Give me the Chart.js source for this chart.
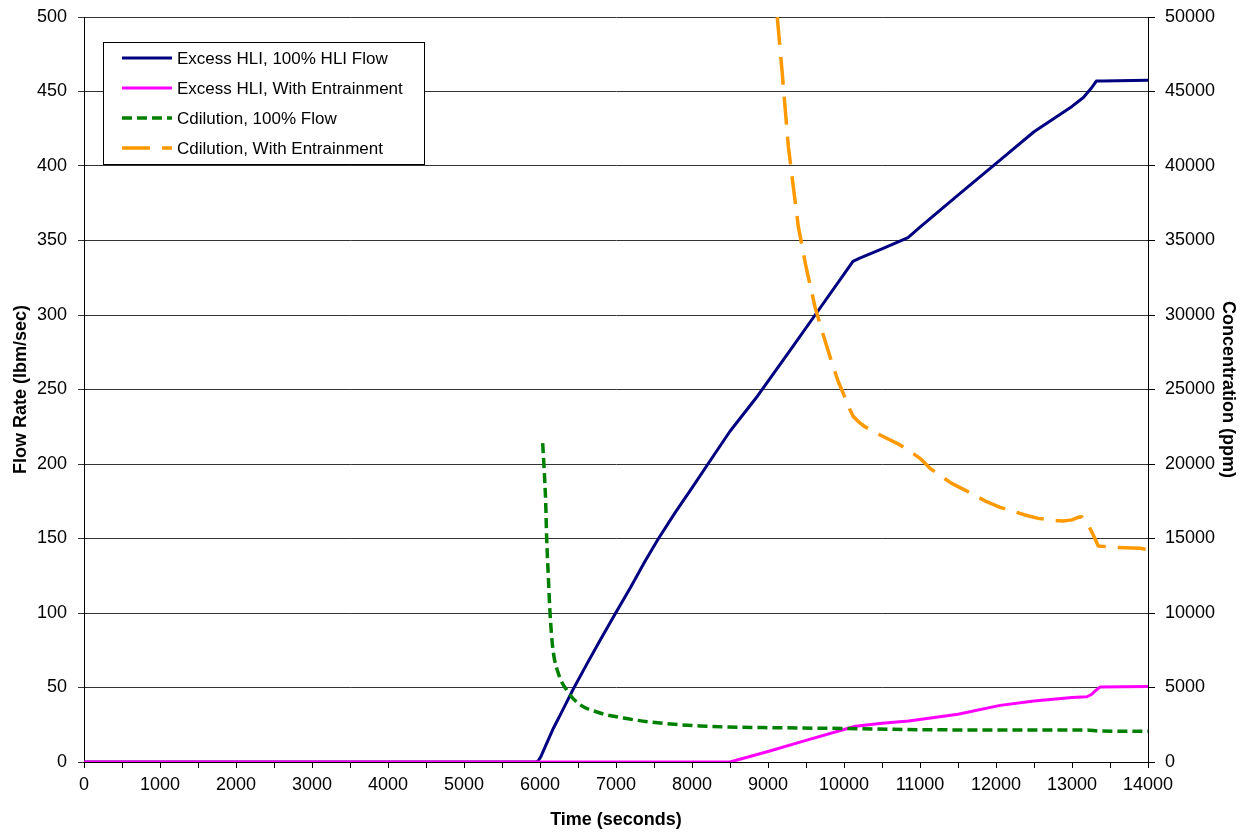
<!DOCTYPE html>
<html>
<head>
<meta charset="utf-8">
<script src="https://cdn.jsdelivr.net/npm/chart.js@4/dist/chart.umd.min.js"></script>
<style>
  html, body { margin: 0; padding: 0; background: #fff; }
  #wrap { width: 1242px; height: 833px; }
</style>
</head>
<body>
<div id="wrap"><canvas id="c" width="1242" height="833"></canvas></div>
<script>
// ---- data ----
const seriesNames = [
  'Excess HLI, 100% HLI Flow',
  'Excess HLI, With Entrainment',
  'Cdilution, 100% Flow',
  'Cdilution, With Entrainment'
];

// Flow rate (lbm/sec), left axis
const blueX = [0, 5900, 5956, 5980, 6010, 6066, 6175, 6300, 6438, 6614, 6789, 6990, 7200, 7380, 7553, 7780, 8000, 8210, 8500, 8868, 9300, 9620, 10000, 10118, 10200, 10500, 10842, 11000, 11500, 12053, 12500, 13000, 13150, 13250, 13320, 13400, 14000];
const blueY = [0, 0, 0, 1, 3.5, 10, 22.5, 35, 49, 65.5, 81.5, 99.5, 118, 134.5, 149.5, 167.5, 184, 200, 222, 246, 277, 300, 327.5, 336, 338, 344.4, 352, 359, 380.5, 404, 423, 440, 446, 452, 457, 457, 457.5];

const magentaX = [0, 8500, 9000, 9500, 10000, 10150, 10500, 10850, 11500, 12053, 12500, 13000, 13197, 13260, 13300, 13368, 14000];
const magentaY = [0, 0, 7, 14.5, 21.8, 24, 26, 27.5, 32, 38, 41, 43.3, 43.8, 45.5, 47.5, 50.3, 50.7];

// Concentration (ppm), right axis
const greenX = [6035, 6053, 6075, 6088, 6110, 6132, 6167, 6241, 6351, 6500, 6790, 7100, 7447, 8105, 9421, 10000, 11000, 12000, 13000, 13200, 13350, 14000];
const greenY = [21400, 19800, 17400, 15000, 12400, 10000, 7700, 5950, 4830, 3950, 3290, 2950, 2685, 2416, 2282, 2250, 2170, 2150, 2150, 2150, 2080, 2060];

const orangeX = [9122, 9180, 9224, 9268, 9333, 9399, 9500, 9618, 9706, 9816, 9925, 9990, 10060, 10122, 10200, 10276, 10474, 10737, 10870, 11000, 11132, 11300, 11417, 11592, 11877, 12053, 12382, 12557, 12750, 12886, 13000, 13080, 13128, 13215, 13280, 13346, 13500, 13697, 13895, 14000];
const orangeY = [50000, 46650, 43980, 41300, 38610, 35930, 33240, 30560, 29000, 27200, 25520, 24740, 23850, 23180, 22800, 22500, 21950, 21280, 20850, 20380, 19710, 19100, 18700, 18250, 17470, 17090, 16580, 16350, 16230, 16170, 16250, 16420, 16460, 15900, 15230, 14500, 14430, 14380, 14340, 14260];

// axis ranges / ticks
const xRange = [0, 14000];
const xMinorStep = 500;
const xLabelStep = 1000;
const yLeftRange = [0, 500];
const yLeftStep = 50;
const yRightRange = [0, 50000];
const yRightStep = 5000;

const xTitle = 'Time (seconds)';
const yLeftTitle = 'Flow Rate (lbm/sec)';
const yRightTitle = 'Concentration (ppm)';

// ---- build ----
const pts = (xs, ys) => xs.map((x, i) => ({ x: x, y: ys[i] }));
const FONT = '"Liberation Sans", Arial, Helvetica, sans-serif';
Chart.defaults.font.family = FONT;
Chart.defaults.color = '#000';

const boxLegend = {
  id: 'boxLegend',
  afterDatasetsDraw(chart) {
    const { ctx, chartArea } = chart;
    const x0 = chartArea.left + 19, y0 = chartArea.top + 25, w = 321, h = 122;
    ctx.save();
    ctx.fillStyle = '#fff';
    ctx.fillRect(x0, y0, w, h);
    ctx.strokeStyle = '#000';
    ctx.lineWidth = 1;
    ctx.strokeRect(x0 + 0.5, y0 + 0.5, w, h);
    chart.data.datasets.forEach((ds, i) => {
      const y = y0 + 16 + i * 30;
      ctx.beginPath();
      ctx.setLineDash(ds.borderDash || []);
      ctx.strokeStyle = ds.borderColor;
      ctx.lineWidth = ds.borderWidth;
      ctx.moveTo(x0 + 19, y);
      ctx.lineTo(x0 + 69, y);
      ctx.stroke();
      ctx.setLineDash([]);
      ctx.fillStyle = '#000';
      ctx.font = '17px ' + FONT;
      ctx.textBaseline = 'middle';
      ctx.textAlign = 'left';
      ctx.fillText(ds.label, x0 + 74, y + 1);
    });
    ctx.restore();
  }
};

new Chart(document.getElementById('c'), {
  type: 'line',
  data: {
    datasets: [
      { label: seriesNames[0], data: pts(blueX, blueY), yAxisID: 'y', borderColor: '#000080', borderWidth: 3, order: 4 },
      { label: seriesNames[1], data: pts(magentaX, magentaY), yAxisID: 'y', borderColor: '#FF00FF', borderWidth: 3, order: 3 },
      { label: seriesNames[2], data: pts(greenX, greenY), yAxisID: 'y2', borderColor: '#008000', borderWidth: 3.5, borderDash: [10, 5], cubicInterpolationMode: 'monotone', order: 2 },
      { label: seriesNames[3], data: pts(orangeX, orangeY), yAxisID: 'y2', borderColor: '#FF9900', borderWidth: 3.5, borderDash: [28, 12], order: 1 }
    ]
  },
  options: {
    responsive: false,
    animation: false,
    parsing: false,
    normalized: true,
    elements: {
      point: { radius: 0, hoverRadius: 0 },
      line: { tension: 0, fill: false, borderJoinStyle: 'round', borderCapStyle: 'butt' }
    },
    layout: { padding: { top: 17, left: 0, right: 0, bottom: 0 } },
    plugins: {
      legend: { display: false },
      tooltip: { enabled: false }
    },
    scales: {
      x: {
        type: 'linear',
        min: xRange[0], max: xRange[1],
        afterFit(s) { s.height = 71; },
        afterBuildTicks(s) {
          const t = [];
          for (let v = xRange[0]; v <= xRange[1]; v += xMinorStep) t.push({ value: v });
          s.ticks = t;
        },
        ticks: {
          autoSkip: false, maxRotation: 0, minRotation: 0, padding: 6,
          font: { size: 18 },
          callback: (v) => (v % xLabelStep === 0 ? String(v) : '')
        },
        grid: { drawOnChartArea: false, drawTicks: true, tickLength: 6, color: '#000', lineWidth: 1 },
        border: { color: '#000', width: 1 },
        title: { display: true, text: xTitle, font: { size: 18, weight: 'bold' }, padding: { top: 0, bottom: 2 } }
      },
      y: {
        type: 'linear', position: 'left',
        min: yLeftRange[0], max: yLeftRange[1],
        afterFit(s) { s.width = 84; s.paddingTop = 0; s.paddingBottom = 0; },
        ticks: { stepSize: yLeftStep, padding: 11, font: { size: 18 }, callback: (v) => String(v) },
        grid: { color: '#333', lineWidth: 1, tickLength: 6 },
        border: { color: '#000', width: 1 },
        title: { display: true, text: yLeftTitle, font: { size: 18, weight: 'bold' }, padding: { top: 10, bottom: 0 } }
      },
      y2: {
        type: 'linear', position: 'right',
        min: yRightRange[0], max: yRightRange[1],
        afterFit(s) { s.width = 94; s.paddingTop = 0; s.paddingBottom = 0; },
        ticks: { stepSize: yRightStep, padding: 10, font: { size: 18 }, callback: (v) => String(v) },
        grid: { drawOnChartArea: false, color: '#000', lineWidth: 1, tickLength: 7 },
        border: { color: '#000', width: 1 },
        title: { display: true, text: yRightTitle, font: { size: 18, weight: 'bold' }, padding: { top: 3, bottom: 0 } }
      }
    }
  },
  plugins: [boxLegend]
});
</script>
</body>
</html>
